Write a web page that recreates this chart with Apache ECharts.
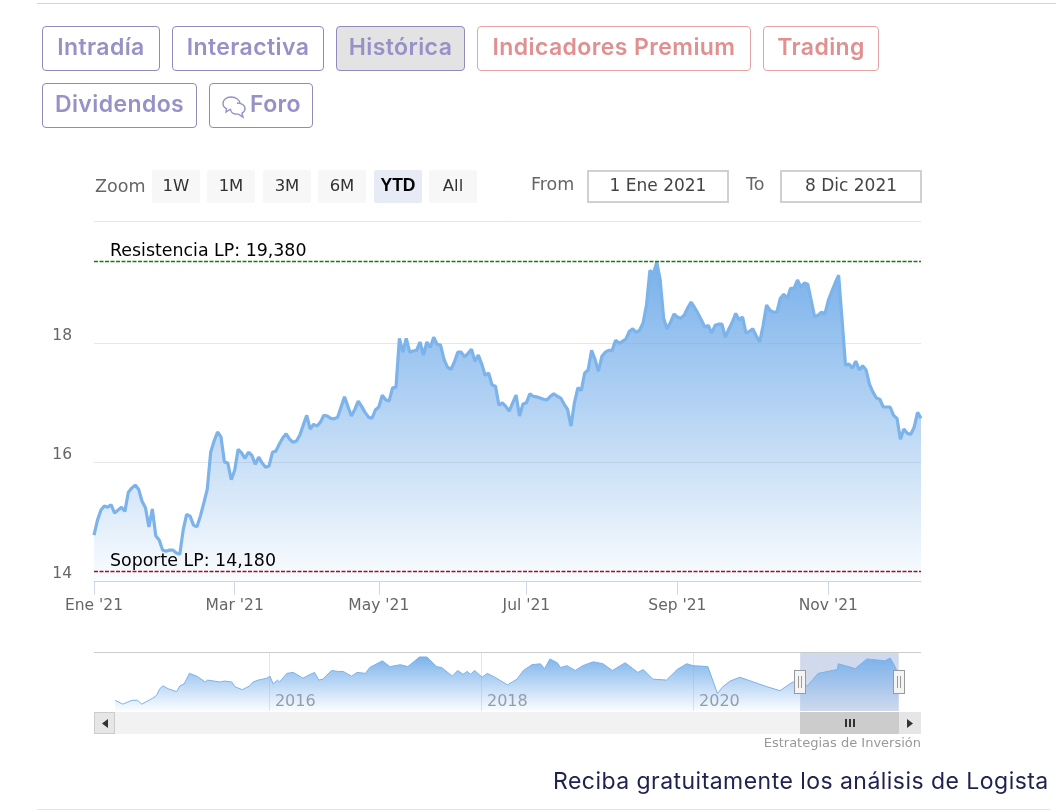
<!DOCTYPE html>
<html><head><meta charset="utf-8">
<script src="https://cdn.jsdelivr.net/npm/echarts@6/dist/echarts.min.js"></script>
<style>
html,body{margin:0;padding:0;background:#fff;width:1056px;height:811px;overflow:hidden}
#chart{position:absolute;left:0;top:0;width:1056px;height:811px;z-index:1}
.a{position:absolute;box-sizing:border-box;z-index:2}
.btn{border:1px solid #8f8bbd;border-radius:4px;color:#9691c6;font:600 23px Inter,"Open Sans",sans-serif;letter-spacing:.4px;display:flex;align-items:center;justify-content:center;height:45px;padding-bottom:3px;white-space:nowrap}
.btn.r{border-color:#e6a3a3;color:#e09090}
.rs{height:33px;top:170px;width:48px;background:#f7f7f7;border-radius:2px;color:#333;font:16.500px "DejaVu Sans",sans-serif;display:flex;align-items:center;justify-content:center;padding-bottom:3px}
.lbl{color:#666;font:17.500px "DejaVu Sans",sans-serif;white-space:nowrap}
.inp{top:170px;height:33px;width:142px;border:2px solid #d0d0d0;color:#444;font:17px "DejaVu Sans",sans-serif;display:flex;align-items:center;justify-content:center;padding-bottom:3px}
.hdl{top:670px;width:12px;height:24px;background:#f4f4f4;border:1px solid #999;display:flex;align-items:center;justify-content:center;gap:2px}
.hdl i{display:block;width:1px;height:12px;background:#999}
</style></head><body>
<div class="a" style="left:37px;top:3px;width:1019px;height:1px;background:#d4d2e6"></div>
<div class="a btn" style="left:42px;top:26px;width:118px">Intradía</div>
<div class="a btn" style="left:172px;top:26px;width:152px">Interactiva</div>
<div class="a btn" style="left:336px;top:26px;width:129px;background:#e3e3e3">Histórica</div>
<div class="a btn r" style="left:477px;top:26px;width:274px">Indicadores Premium</div>
<div class="a btn r" style="left:763px;top:26px;width:116px">Trading</div>
<div class="a btn" style="left:42px;top:83px;width:155px">Dividendos</div>
<div class="a btn" style="left:209px;top:83px;width:104px"><svg width="26" height="24" viewBox="0 0 26 24" fill="#fff" stroke="#9691c6" stroke-width="1.4" style="margin-right:3px;margin-top:5px"><path d="M10 2c-5 0-8 3-8 6.500 0 2.400 1.500 4.200 3.500 5.200L5 17l4-2.500h2c5 0 8-2.600 8-6S15 2 10 2z"/><path d="M16 8c4 0 8 2 8 5.500 0 2-1 3.600-3 4.600l1 4-4.500-3h-2c-3.500 0-6-2-6-5"/></svg>Foro</div>

<div class="a lbl" style="left:95px;top:176px">Zoom</div>
<div class="a rs" style="left:152px">1W</div>
<div class="a rs" style="left:207px">1M</div>
<div class="a rs" style="left:263px">3M</div>
<div class="a rs" style="left:318px">6M</div>
<div class="a rs" style="left:374px;background:#e6ebf5;color:#000;font-weight:bold;font-family:'Liberation Sans',sans-serif;font-size:17.500px">YTD</div>
<div class="a rs" style="left:429px">All</div>
<div class="a lbl" style="left:531px;top:174px">From</div>
<div class="a inp" style="left:587px">1 Ene 2021</div>
<div class="a lbl" style="left:746px;top:174px">To</div>
<div class="a inp" style="left:780px">8 Dic 2021</div>

<div class="a" style="left:94px;top:652px;width:827px;height:1px;background:#ccc"></div>
<div class="a" style="left:94px;top:712px;width:827px;height:22px;background:#f2f2f2"></div>
<div class="a" style="left:800px;top:712px;width:99px;height:22px;background:#ccc;display:flex;align-items:center;justify-content:center;gap:2px"><i style="width:2px;height:8px;background:#333;display:block"></i><i style="width:2px;height:8px;background:#333;display:block"></i><i style="width:2px;height:8px;background:#333;display:block"></i></div>
<div class="a" style="left:94px;top:712px;width:21px;height:22px;background:#e6e6e6;border:1px solid #ccc;display:flex;align-items:center;justify-content:center"><svg width="6" height="9"><path d="M6 0V9L0 4.500z" fill="#333"/></svg></div>
<div class="a" style="left:899px;top:712px;width:22px;height:22px;background:#e6e6e6;display:flex;align-items:center;justify-content:center"><svg width="6" height="9"><path d="M0 0V9L6 4.500z" fill="#333"/></svg></div>
<div class="a hdl" style="left:794px"><i></i><i></i></div>
<div class="a hdl" style="left:893px"><i></i><i></i></div>
<div class="a" style="right:135px;top:735px;color:#999;font:13px 'DejaVu Sans',sans-serif;white-space:nowrap">Estrategias de Inversión</div>
<div class="a" style="left:553px;top:767px;color:#1f2150;font:23px Inter,'Open Sans',sans-serif;letter-spacing:.46px;white-space:nowrap">Reciba gratuitamente los análisis de Logista</div>
<div class="a" style="left:37px;top:809px;width:1013px;height:1px;background:#e4e4ec"></div>
<div id="chart"></div>
<script>
const monthNames = ["Ene '21","Feb '21","Mar '21","Abr '21","May '21","Jun '21","Jul '21","Ago '21","Sep '21","Oct '21","Nov '21","Dic '21"];
const closeEne = [14.78,15.03,15.20,15.27,15.25,15.29,15.15,15.20,15.25,15.18,15.50,15.57,15.62,15.55,15.35,15.24,14.92,15.22,14.77,14.70];
const closeFeb = [14.53,14.51,14.53,14.53,14.48,14.46,14.87,15.13,15.10,14.95,14.92,15.10,15.32,15.55,16.17,16.36,16.51,16.43,16.01,15.99,15.71];
const closeMar = [15.87,16.22,16.16,16.07,16.17,16.12,15.97,16.09,15.99,15.92,15.94,16.17,16.19,16.31,16.41,16.48,16.39,16.34,16.36,16.46,16.63,16.79,16.56];
const closeAbr = [16.64,16.61,16.68,16.79,16.78,16.74,16.73,16.76,16.93,17.10,16.94,16.78,16.89,17.03,16.94,16.84,16.76,16.74,16.88];
const closeMay = [16.93,17.13,17.05,17.03,17.25,17.26,18.08,17.85,18.08,17.85,17.87,17.88,18.02,17.80,18.02,17.93,18.10,17.98,17.97,17.73,17.60];
const closeJun = [17.56,17.68,17.85,17.85,17.77,17.83,17.90,17.70,17.80,17.65,17.46,17.50,17.30,17.28,16.96,17.00,16.94,16.86,17.00,17.13,16.78,16.98];
const closeJul = [17.00,17.15,17.11,17.10,17.08,17.06,17.05,17.11,17.15,17.11,17.08,16.98,16.89,16.61,17.00,17.25,17.21,17.50,17.55,17.88,17.73,17.53];
const closeAgo = [17.78,17.85,17.88,17.88,18.05,18.00,18.03,18.07,18.20,18.24,18.18,18.22,18.34,18.64,19.22,19.17,19.36,19.06,18.42,18.24,18.35,18.49];
const closeSep = [18.44,18.42,18.47,18.59,18.69,18.60,18.50,18.39,18.27,18.30,18.17,18.30,18.32,18.32,18.10,18.24,18.35,18.50,18.39,18.44,18.17,18.20];
const closeOct = [18.24,18.12,18.02,18.30,18.64,18.55,18.52,18.52,18.75,18.82,18.75,18.92,18.92,19.06,18.94,19.01,18.99,18.72,18.44,18.47,18.52,18.49];
const closeNov = [18.72,18.87,19.01,19.14,18.39,17.63,17.65,17.58,17.70,17.55,17.62,17.55,17.31,17.18,17.08,17.06,16.93,16.93,16.93,16.79,16.74,16.39];
const closeDic = [16.56,16.49,16.47,16.59,16.84,16.74];
const closeByMonth = [closeEne,closeFeb,closeMar,closeAbr,closeMay,closeJun,closeJul,closeAgo,closeSep,closeOct,closeNov,closeDic];
const resistance = 19.38, support = 14.18;
const resistanceLabel = "Resistencia LP: 19,380", supportLabel = "Soporte LP: 14,180";
const yTicks = [14,16,18];

const navYears = [2014.55,2014.62,2014.71,2014.76,2014.80,2014.90,2014.94,2014.97,2015.00,2015.05,2015.13,2015.16,2015.20,2015.25,2015.32,2015.40,2015.42,2015.54,2015.58,2015.65,2015.68,2015.75,2015.82,2015.85,2015.90,2015.98,2016.01,2016.04,2016.08,2016.10,2016.17,2016.23,2016.32,2016.39,2016.43,2016.47,2016.51,2016.59,2016.65,2016.70,2016.78,2016.83,2016.91,2016.95,2017.07,2017.14,2017.24,2017.31,2017.42,2017.49,2017.58,2017.63,2017.73,2017.78,2017.83,2017.87,2017.90,2017.94,2018.01,2018.06,2018.13,2018.25,2018.34,2018.40,2018.48,2018.56,2018.60,2018.65,2018.72,2018.75,2018.81,2018.89,2018.96,2019.06,2019.15,2019.24,2019.36,2019.48,2019.53,2019.62,2019.75,2019.85,2019.94,2020.00,2020.14,2020.23,2020.28,2020.35,2020.44,2020.57,2020.70,2020.82,2020.94,2021.01,2021.08,2021.18,2021.36,2021.37,2021.53,2021.64,2021.81,2021.86,2021.91,2021.94];
const navValues = [11.97,11.30,11.97,11.97,11.30,12.30,12.81,13.98,14.49,13.98,13.48,14.49,14.82,16.67,16.17,15.16,15.50,15.16,15.33,15.16,14.32,13.82,14.49,15.16,15.50,15.83,16.17,14.82,15.50,15.16,16.67,16.84,15.83,16.50,16.84,15.50,15.66,17.18,17.01,17.01,16.17,16.84,16.67,17.68,18.86,17.85,18.18,17.85,19.53,19.53,17.85,17.68,16.17,17.18,16.50,17.01,16.50,17.18,16.00,16.67,16.00,14.66,15.66,17.18,18.18,18.35,17.51,19.19,18.52,17.68,18.02,17.18,18.02,18.69,18.35,17.18,18.52,16.84,17.34,15.66,15.50,17.34,18.35,18.02,17.85,13.14,14.32,15.33,16.00,15.16,14.32,13.65,15.16,15.16,14.49,16.67,17.34,18.35,17.51,19.19,18.86,19.36,17.68,16.00];
const navTicks = [2016,2018,2020];
const navWindow = [2021.01,2021.94];

const categories = [], closes = [];
closeByMonth.forEach((m,k)=>m.forEach(v=>{categories.push(monthNames[k]);closes.push(v);}));
const tickIdx = new Set();
{let n=0;closeByMonth.forEach((m,k)=>{if(k%2===0)tickIdx.add(n);n+=m.length;});}
const showTick = i => tickIdx.has(i);

const chart = echarts.init(document.getElementById('chart'),null,{renderer:'canvas'});
const font = '"DejaVu Sans",sans-serif';
const blue = c => new echarts.graphic.LinearGradient(0,0,0,1,[{offset:0,color:'rgba(118,175,234,'+c+')'},{offset:1,color:'rgba(118,175,234,0.03)'}]);
chart.setOption({
  animation:false,
  grid:[{left:94,right:135,top:221,height:360.7},{left:94,right:135,top:652,height:59}],
  xAxis:[
   {type:'category',data:categories,boundaryGap:false,gridIndex:0,
    axisLine:{lineStyle:{color:'#ccd6eb',width:1}},
    axisTick:{show:true,alignWithLabel:true,length:13,interval:showTick,lineStyle:{color:'#ccd6eb'}},
    axisLabel:{interval:showTick,color:'#666',fontFamily:font,fontSize:15.500,margin:16,showMinLabel:true},
    splitLine:{show:false}},
   {type:'value',gridIndex:1,min:2014.35,max:2022.15,
    axisLine:{show:false},
    axisTick:{show:false,customValues:navTicks},
    axisLabel:{inside:true,customValues:navTicks,align:'left',margin:1,padding:[0,0,0,6],color:'#999',fontFamily:font,fontSize:16,formatter:v=>String(v)},
    splitLine:{show:true,customValues:navTicks,lineStyle:{color:'#e6e6e6'}}}
  ],
  yAxis:[
   {type:'value',gridIndex:0,min:14,max:20.05,
    axisLine:{show:false},
    axisTick:{show:false,customValues:[14,16,18,20.05]},
    axisLabel:{customValues:yTicks,color:'#666',fontFamily:font,fontSize:15.500,margin:22,verticalAlign:'bottom',lineHeight:15,formatter:v=>String(v)},
    splitLine:{show:true,lineStyle:{color:'#e6e6e6'}}},
   {type:'value',gridIndex:1,min:10.1,max:20.4,show:false,splitLine:{show:false}}
  ],
  series:[
   {type:'line',xAxisIndex:0,yAxisIndex:0,data:closes,showSymbol:false,symbol:'none',
    lineStyle:{color:'#7cb3ea',width:3.200},areaStyle:{color:blue(0.98),opacity:1},
    markLine:{silent:true,symbol:'none',animation:false,precision:2,data:[
      {yAxis:resistance,lineStyle:{color:'#0c7f0c',type:[4,1.500],width:1.300,opacity:1},label:{formatter:resistanceLabel}},
      {yAxis:support,lineStyle:{color:'#a01024',type:[4,1.500],width:1.300,opacity:1},label:{formatter:supportLabel}}
    ],label:{position:'insideStartTop',distance:[16,1],color:'#000',fontFamily:font,fontSize:17.400}}},
   {type:'line',xAxisIndex:1,yAxisIndex:1,data:navYears.map((y,i)=>[y,navValues[i]]),showSymbol:false,symbol:'none',
    lineStyle:{color:'#7cb1e8',width:1},areaStyle:{color:blue(0.95),opacity:1},
    markArea:{silent:true,itemStyle:{color:'rgba(102,133,194,0.3)'},data:[[{xAxis:navWindow[0]},{xAxis:navWindow[1]}]]}}
  ]
});
</script>
</body></html>
